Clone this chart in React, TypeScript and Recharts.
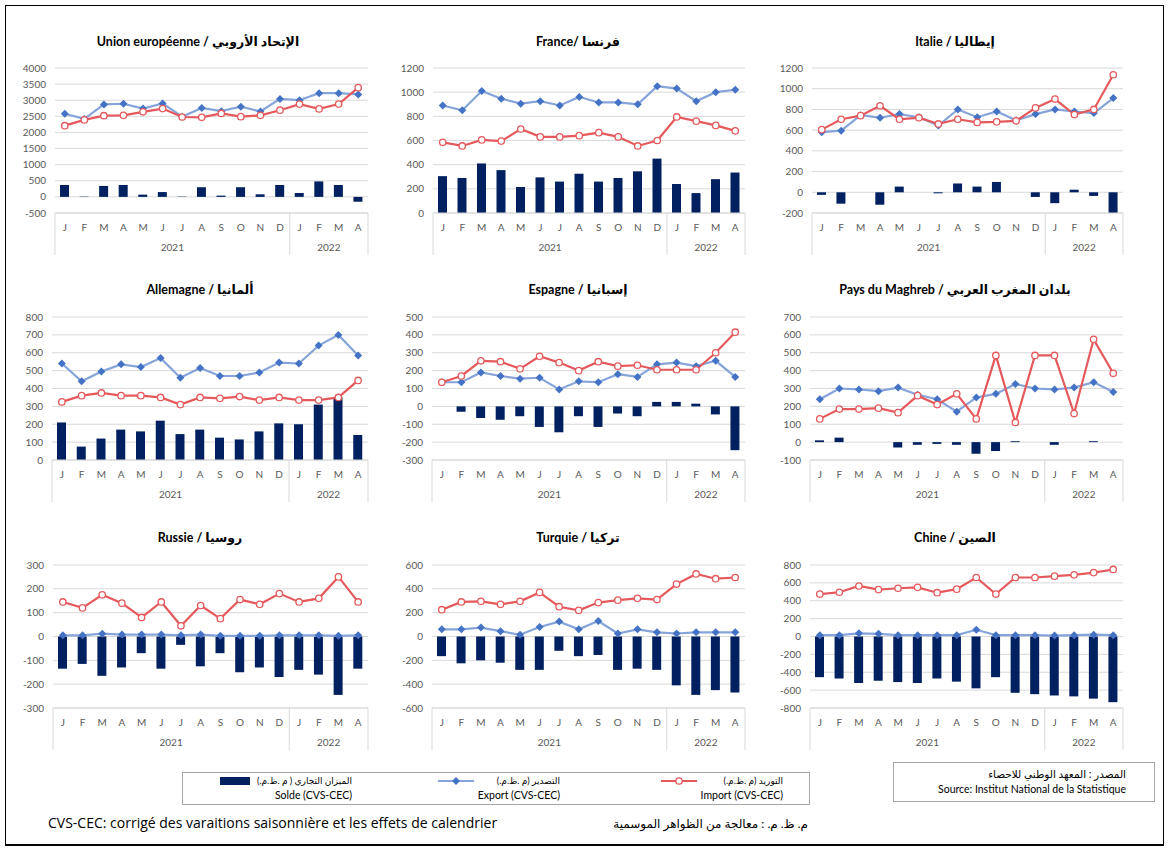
import React from 'react';
import { Bar, CartesianGrid, ComposedChart, Line, XAxis, YAxis } from 'recharts';

const months = ['J', 'F', 'M', 'A', 'M', 'J', 'J', 'A', 'S', 'O', 'N', 'D', 'J', 'F', 'M', 'A'];

const ueExport = [2580, 2420, 2870, 2890, 2740, 2900, 2490, 2760, 2660, 2800, 2650, 3040, 3000, 3220, 3220, 3180];
const ueImport = [2210, 2390, 2520, 2530, 2640, 2740, 2480, 2470, 2590, 2490, 2530, 2690, 2880, 2730, 2880, 3390];
const ueSolde = [370, 10, 340, 370, 70, 150, 10, 300, 40, 300, 80, 370, 120, 480, 370, -150];

const frExport = [890, 850, 1010, 945, 905, 925, 890, 960, 915, 915, 900, 1050, 1030, 925, 1000, 1020];
const frImport = [585, 555, 605, 595, 695, 630, 630, 640, 665, 630, 555, 600, 795, 760, 725, 680];
const frSolde = [305, 290, 410, 355, 215, 295, 260, 325, 260, 290, 345, 450, 240, 165, 280, 335];

const itExport = [580, 595, 745, 720, 755, 725, 645, 800, 725, 780, 695, 755, 800, 780, 765, 910];
const itImport = [605, 705, 740, 835, 705, 720, 660, 705, 675, 680, 690, 815, 900, 750, 800, 1135];
const itSolde = [-25, -110, 0, -120, 55, 0, -10, 85, 55, 100, 0, -45, -105, 25, -35, -200];

const deExport = [540, 440, 495, 535, 520, 570, 460, 515, 470, 470, 490, 545, 540, 640, 700, 585];
const deImport = [325, 360, 375, 360, 360, 350, 310, 350, 345, 355, 335, 350, 335, 335, 350, 445];
const deSolde = [210, 75, 120, 170, 160, 220, 145, 170, 125, 115, 160, 205, 200, 310, 350, 140];

const esExport = [135, 135, 190, 170, 155, 160, 95, 140, 135, 180, 165, 235, 245, 225, 255, 165];
const esImport = [135, 170, 255, 250, 210, 280, 245, 200, 250, 225, 230, 205, 205, 205, 300, 415];
const esSolde = [0, -30, -65, -75, -55, -115, -145, -55, -115, -40, -55, 25, 25, 15, -45, -245];

const mgExport = [240, 300, 295, 285, 305, 265, 240, 170, 250, 270, 325, 300, 295, 305, 335, 280];
const mgImport = [130, 185, 185, 190, 165, 260, 210, 270, 130, 485, 110, 485, 485, 160, 575, 385];
const mgSolde = [10, 25, 0, 0, -30, -15, -10, -15, -65, -50, 5, 0, -15, 0, 5, 0];

const ruExport = [5, 5, 12, 8, 8, 8, 5, 8, 3, 3, 3, 5, 5, 5, 3, 5];
const ruImport = [145, 120, 175, 140, 80, 145, 45, 130, 75, 155, 135, 180, 145, 160, 250, 145];
const ruSolde = [-135, -115, -165, -130, -70, -135, -35, -125, -70, -150, -130, -170, -140, -160, -245, -135];

const trExport = [60, 60, 75, 45, 15, 80, 125, 60, 130, 25, 60, 35, 25, 35, 35, 35];
const trImport = [225, 290, 295, 270, 295, 370, 250, 220, 285, 305, 320, 310, 440, 525, 485, 495];
const trSolde = [-165, -225, -200, -220, -280, -280, -120, -165, -155, -280, -270, -280, -410, -490, -450, -470];

const cnExport = [15, 15, 35, 30, 15, 15, 15, 15, 75, 15, 15, 15, 10, 15, 20, 15];
const cnImport = [475, 495, 565, 525, 540, 550, 490, 530, 660, 475, 660, 660, 675, 690, 715, 750];
const cnSolde = [-455, -470, -520, -495, -510, -520, -470, -505, -580, -455, -630, -645, -660, -670, -695, -735];

const ticksUe = [-500, 0, 500, 1000, 1500, 2000, 2500, 3000, 3500, 4000];
const ticksFr = [0, 200, 400, 600, 800, 1000, 1200];
const ticksIt = [-200, 0, 200, 400, 600, 800, 1000, 1200];
const ticksDe = [0, 100, 200, 300, 400, 500, 600, 700, 800];
const ticksEs = [-300, -200, -100, 0, 100, 200, 300, 400, 500];
const ticksMg = [-100, 0, 100, 200, 300, 400, 500, 600, 700];
const ticksRu = [-300, -200, -100, 0, 100, 200, 300];
const ticksTr = [-600, -400, -200, 0, 200, 400, 600];
const ticksCn = [-800, -600, -400, -200, 0, 200, 400, 600, 800];

const panels = [
  { title: 'Union européenne / الإتحاد الأروبي', exp: ueExport, imp: ueImport, sol: ueSolde, ticks: ticksUe },
  { title: 'France/ فرنسا', exp: frExport, imp: frImport, sol: frSolde, ticks: ticksFr },
  { title: 'Italie / إيطاليا', exp: itExport, imp: itImport, sol: itSolde, ticks: ticksIt },
  { title: 'Allemagne / ألمانيا', exp: deExport, imp: deImport, sol: deSolde, ticks: ticksDe },
  { title: 'Espagne / إسبانيا', exp: esExport, imp: esImport, sol: esSolde, ticks: ticksEs },
  { title: 'Pays du Maghreb / بلدان المغرب العربي', exp: mgExport, imp: mgImport, sol: mgSolde, ticks: ticksMg },
  { title: 'Russie / روسيا', exp: ruExport, imp: ruImport, sol: ruSolde, ticks: ticksRu },
  { title: 'Turquie / تركيا', exp: trExport, imp: trImport, sol: trSolde, ticks: ticksTr },
  { title: 'Chine / الصين', exp: cnExport, imp: cnImport, sol: cnSolde, ticks: ticksCn },
];

// plot-area boxes for each panel (page coordinates)
const boxes = [
  { left: 55, right: 368, top: 68, bottom: 213, tx: 198, ty: 42 },
  { left: 433, right: 745, top: 68, bottom: 213, tx: 578, ty: 42 },
  { left: 812, right: 1123, top: 68, bottom: 213, tx: 955, ty: 42 },
  { left: 52, right: 368, top: 317, bottom: 460, tx: 200, ty: 290 },
  { left: 432, right: 745, top: 317, bottom: 460, tx: 578, ty: 290 },
  { left: 810, right: 1123, top: 317, bottom: 460, tx: 955, ty: 290 },
  { left: 53, right: 368, top: 565, bottom: 708, tx: 200, ty: 538 },
  { left: 432, right: 745, top: 565, bottom: 708, tx: 578, ty: 538 },
  { left: 810, right: 1123, top: 565, bottom: 708, tx: 955, ty: 538 },
];

const FONT = 'Lato, "DejaVu Sans", sans-serif';
const NAVY = '#002060';
const BLUE = '#4472c4';
const BLUE_LINE = '#86a4d9';
const RED = '#e5595c';
const GRID = '#d9d9d9';
const LABEL = '#595959';

function MonthTick(props: any) {
  const { x, y, payload, bw } = props;
  const i = payload.value;
  const ln = (lx: number) => (
    <line x1={lx} x2={lx} y1={y} y2={y + 42} stroke={GRID} strokeWidth={1} />
  );
  return (
    <g>
      <text x={x} y={y + 18} textAnchor="middle" fontSize={10} fill={LABEL} fontFamily={FONT}>
        {months[i]}
      </text>
      {i === 0 && ln(x - bw / 2)}
      {(i === 11 || i === 15) && ln(x + bw / 2)}
      {i === 5 && (
        <text x={x + bw / 2} y={y + 38} textAnchor="middle" fontSize={10} fill={LABEL} fontFamily={FONT}>
          2021
        </text>
      )}
      {i === 13 && (
        <text x={x + bw / 2} y={y + 38} textAnchor="middle" fontSize={10} fill={LABEL} fontFamily={FONT}>
          2022
        </text>
      )}
    </g>
  );
}

function Diamond(props: any) {
  const { cx, cy } = props;
  if (cx == null || cy == null) return <g />;
  return <path d={`M${cx},${cy - 4}L${cx + 4},${cy}L${cx},${cy + 4}L${cx - 4},${cy}Z`} fill={BLUE} />;
}

function Ring(props: any) {
  const { cx, cy } = props;
  if (cx == null || cy == null) return <g />;
  return <circle cx={cx} cy={cy} r={3.2} fill="#fff" stroke={RED} strokeWidth={1.3} />;
}

function Panel({ p, b }: { p: (typeof panels)[0]; b: (typeof boxes)[0] }) {
  const data = months.map((m, i) => ({ i, exp: p.exp[i], imp: p.imp[i], sol: p.sol[i] }));
  const yW = 50;
  const chartLeft = b.left - yW;
  const width = b.right - chartLeft + 4;
  const height = b.bottom - b.top + 10 + 45 + 2;
  const bw = (b.right - b.left) / 16;
  const t = p.ticks;
  return (
    <>
      <div
        style={{
          position: 'absolute',
          left: b.tx - 150,
          top: b.ty - 9,
          width: 300,
          textAlign: 'center',
          fontFamily: FONT,
          fontWeight: 700,
          fontSize: 12.5,
          lineHeight: '18px',
          color: '#000',
        }}
      >
        {p.title}
      </div>
      <div style={{ position: 'absolute', left: chartLeft, top: b.top - 10 }}>
        <ComposedChart
          width={width}
          height={height}
          data={data}
          margin={{ top: 10, right: 4, left: 0, bottom: 2 }}
        >
          <CartesianGrid vertical={false} stroke={GRID} />
          <XAxis
            dataKey="i"
            interval={0}
            height={45}
            tickLine={false}
            tickSize={0}
            tickMargin={0}
            axisLine={{ stroke: GRID }}
            tick={(tp: any) => <MonthTick {...tp} bw={bw} />}
          />
          <YAxis
            width={yW}
            domain={[t[0], t[t.length - 1]]}
            ticks={t}
            interval={0}
            axisLine={false}
            tickLine={false}
            tickSize={0}
            tickMargin={9}
            tick={{ fontSize: 10, fill: LABEL, fontFamily: FONT }}
          />
          <Bar dataKey="sol" fill={NAVY} barSize={9} isAnimationActive={false} />
          <Line
            dataKey="exp"
            stroke={BLUE_LINE}
            strokeWidth={2.2}
            dot={(dp: any) => <Diamond key={`d${dp.index}`} {...dp} />}
            activeDot={false}
            isAnimationActive={false}
          />
          <Line
            dataKey="imp"
            stroke={RED}
            strokeWidth={2.2}
            dot={(dp: any) => <Ring key={`r${dp.index}`} {...dp} />}
            activeDot={false}
            isAnimationActive={false}
          />
        </ComposedChart>
      </div>
    </>
  );
}

// textRight: right edge of the two text lines; the marker sits just left of the text
function LegendItem({ textRight, kind, ar, fr }: { textRight: number; kind: string; ar: string; fr: string }) {
  return (
    <div
      style={{
        position: 'absolute',
        left: textRight - 300,
        top: 774,
        width: 300,
        display: 'flex',
        justifyContent: 'flex-end',
        alignItems: 'flex-start',
      }}
    >
      <svg width={38} height={12} style={{ marginTop: 1, marginRight: 3, flex: 'none' }}>
        {kind === 'bar' && <rect x={4} y={2} width={30} height={8} fill={NAVY} />}
        {kind === 'exp' && (
          <>
            <line x1={1} x2={37} y1={6} y2={6} stroke={BLUE_LINE} strokeWidth={2.2} />
            <path d="M19,2L23,6L19,10L15,6Z" fill={BLUE} />
          </>
        )}
        {kind === 'imp' && (
          <>
            <line x1={1} x2={37} y1={6} y2={6} stroke={RED} strokeWidth={2.2} />
            <circle cx={19} cy={6} r={3.2} fill="#fff" stroke={RED} strokeWidth={1.3} />
          </>
        )}
      </svg>
      <div
        style={{
          textAlign: 'right',
          fontFamily: FONT,
          fontSize: 10.5,
          lineHeight: '14px',
          color: '#000',
          whiteSpace: 'nowrap',
        }}
      >
        <div style={{ fontSize: 9 }}>{ar}</div>
        <div>{fr}</div>
      </div>
    </div>
  );
}

export default function App() {
  return (
    <div
      style={{
        position: 'absolute',
        left: 0,
        top: 0,
        width: 1170,
        height: 851,
        background: '#fff',
        fontFamily: FONT,
      }}
    >
      <div
        style={{
          position: 'absolute',
          left: 5,
          top: 5,
          width: 1157,
          height: 838,
          border: '1px solid #000',
          borderBottom: '2px solid #000',
        }}
      />
      {panels.map((p, k) => (
        <Panel key={k} p={p} b={boxes[k]} />
      ))}

      <div
        style={{
          position: 'absolute',
          left: 182,
          top: 772,
          width: 626,
          height: 31,
          border: '1px solid #a6a6a6',
        }}
      />
      <LegendItem textRight={352} kind="bar" ar="الميزان التجاري ( م .ظ.م.)" fr="Solde (CVS-CEC)" />
      <LegendItem textRight={560} kind="exp" ar="التصدير (م .ظ.م.)" fr="Export (CVS-CEC)" />
      <LegendItem textRight={783} kind="imp" ar="التوريد (م .ظ.م.)" fr="Import (CVS-CEC)" />

      <div
        style={{
          position: 'absolute',
          left: 893,
          top: 762,
          width: 260,
          height: 38,
          border: '1px solid #a6a6a6',
        }}
      />
      <div
        style={{
          position: 'absolute',
          left: 900,
          top: 767,
          width: 226,
          textAlign: 'right',
          fontFamily: FONT,
          fontSize: 10.5,
          lineHeight: '15px',
          color: '#000',
        }}
      >
        <div>المصدر : المعهد الوطني للاحصاء</div>
        <div>Source: Institut National de la Statistique</div>
      </div>

      <div
        style={{
          position: 'absolute',
          left: 48,
          top: 814,
          fontFamily: '"Open Sans", sans-serif',
          fontSize: 14,
          lineHeight: '18px',
          color: '#000',
          whiteSpace: 'nowrap',
        }}
      >
        CVS-CEC: corrigé des varaitions saisonnière et les effets de calendrier
      </div>
      <div
        style={{
          position: 'absolute',
          left: 600,
          top: 815,
          width: 208,
          textAlign: 'right',
          fontFamily: FONT,
          fontSize: 12,
          lineHeight: '18px',
          color: '#000',
          whiteSpace: 'nowrap',
        }}
      >
        م. ظ. م. : معالجة من الظواهر الموسمية
      </div>
    </div>
  );
}
